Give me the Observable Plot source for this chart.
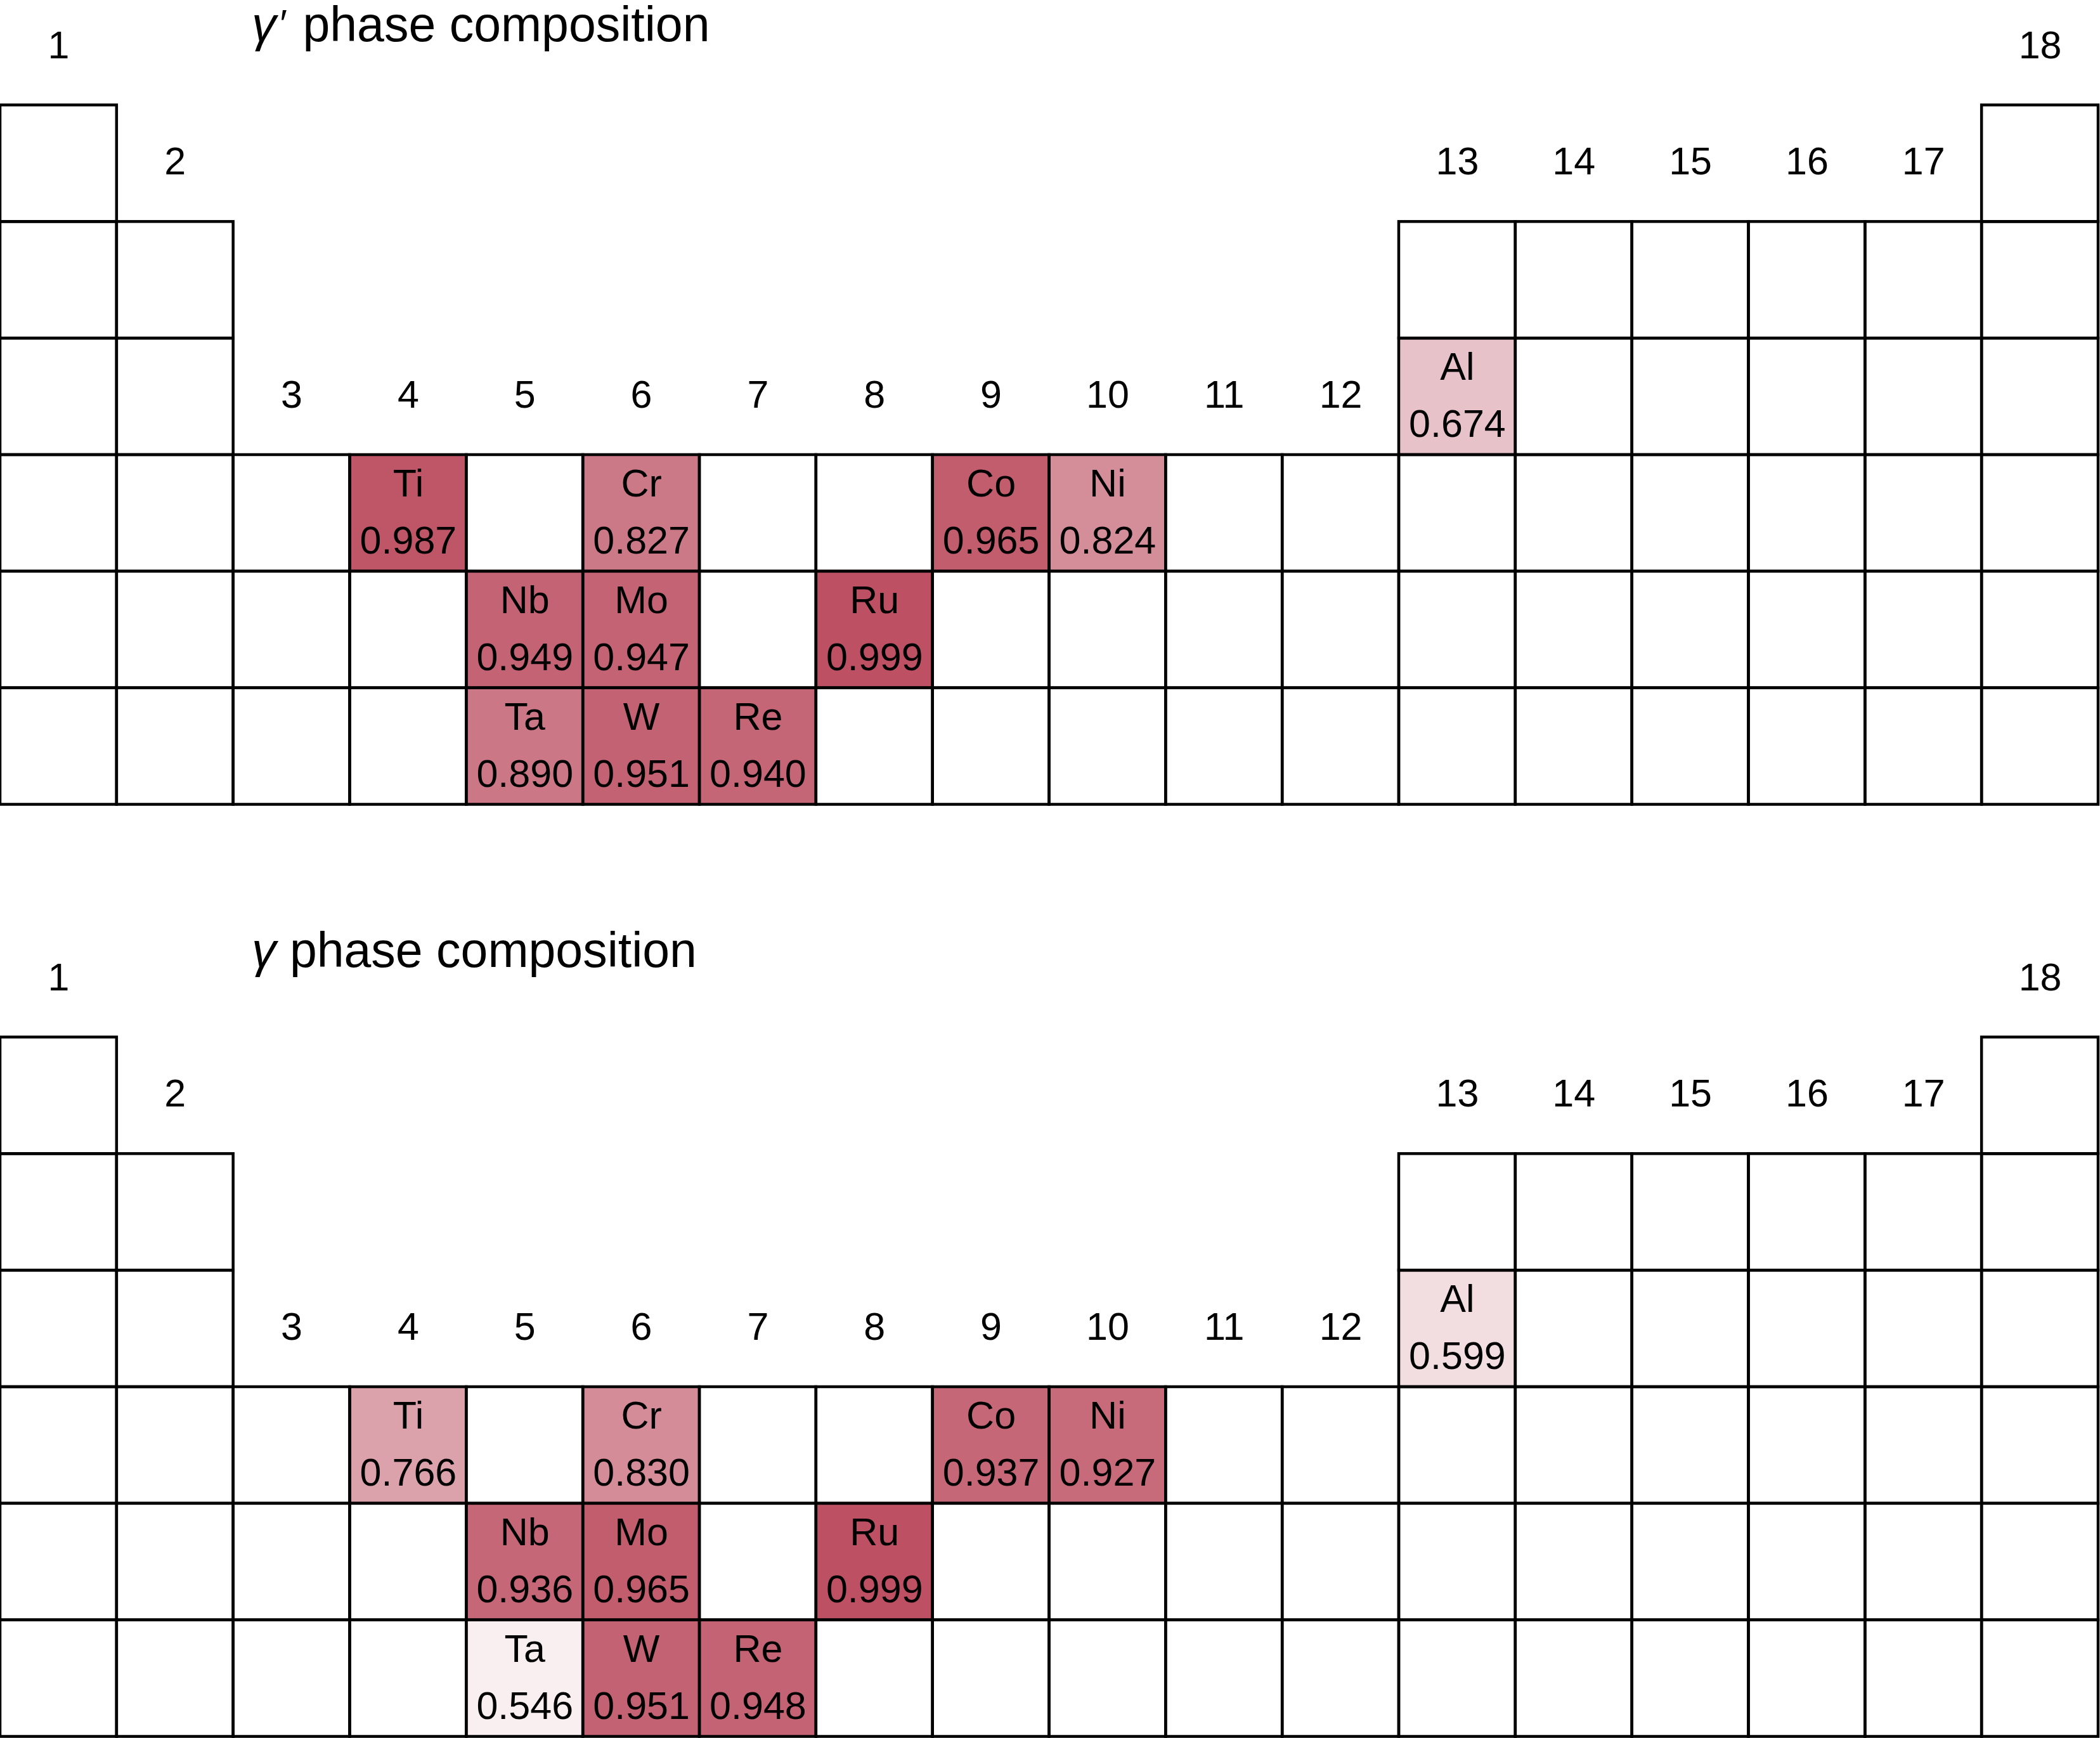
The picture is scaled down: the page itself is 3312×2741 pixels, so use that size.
<!DOCTYPE html>
<html><head><meta charset="utf-8">
<script src="https://cdn.jsdelivr.net/npm/d3@7"></script>
<script src="https://cdn.jsdelivr.net/npm/@observablehq/plot@0.6"></script>
<style>
body{margin:0;background:#fff;width:3312px;height:2741px;overflow:hidden;font-family:"Liberation Sans",Arial,Helvetica,sans-serif;}
.panel{position:absolute;left:0;width:3312px;}
.title{position:absolute;left:397px;font-size:77px;line-height:1;white-space:nowrap;color:#000;z-index:2;}
.title i{font-style:italic;}
.title .pr{font-style:italic;font-size:0.8em;vertical-align:0.12em;margin-left:3px;margin-right:6px;}
</style></head><body>
<div id="p1" class="panel" style="top:0;height:1470px"><div class="title" style="top:0px"><i>γ</i><span class="pr">′</span> phase composition</div></div>
<div id="p2" class="panel" style="top:1470px;height:1271px"><div class="title" style="top:-10px"><i>γ</i> phase composition</div></div>
<script>
// Elements shown in the tables
const symbols = ["Al","Ti","Cr","Co","Ni","Nb","Mo","Ru","Ta","W","Re"];
const groups  = [13, 4, 6, 9, 10, 5, 6, 8, 5, 6, 7];
const periods = [3, 4, 4, 4, 4, 5, 5, 5, 6, 6, 6];
// γ' phase composition values (printed)
const gammaPrime = [0.674, 0.987, 0.827, 0.965, 0.824, 0.949, 0.947, 0.999, 0.890, 0.951, 0.940];
// γ' cell shading (Cr is shaded darker than its printed value)
const gammaPrimeShade = [0.674, 0.987, 0.885, 0.965, 0.824, 0.949, 0.947, 0.999, 0.890, 0.951, 0.940];
// γ phase composition values
const gamma      = [0.599, 0.766, 0.830, 0.937, 0.927, 0.936, 0.965, 0.999, 0.546, 0.951, 0.948];
// Periodic-table skeleton: groups present in each period (1..6)
const periodGroups = [
  [1, 18],
  [1, 2, 13, 14, 15, 16, 17, 18],
  [1, 2, 13, 14, 15, 16, 17, 18],
  [1, 2, 3, 4, 5, 6, 7, 8, 9, 10, 11, 12, 13, 14, 15, 16, 17, 18],
  [1, 2, 3, 4, 5, 6, 7, 8, 9, 10, 11, 12, 13, 14, 15, 16, 17, 18],
  [1, 2, 3, 4, 5, 6, 7, 8, 9, 10, 11, 12, 13, 14, 15, 16, 17, 18]
];
const groupLabels = ["1","2","3","4","5","6","7","8","9","10","11","12","13","14","15","16","17","18"];

const cells = periodGroups.flatMap((gs, i) => gs.map(g => ({group: g, period: i + 1})));
const labels = groupLabels.map((label, i) => {
  const g = i + 1;
  const top = d3.min(cells.filter(c => c.group === g), c => c.period);
  return {group: g, period: top - 1, label};
});

const FONT = '"Liberation Sans", Arial, Helvetica, sans-serif';
const fmt = d3.format(".3f");
const rectOpts = {x1: d => d.group - 0.5, x2: d => d.group + 0.5, y1: d => d.period - 0.5, y2: d => d.period + 0.5};

function panel(values, shades, height, marginBottom) {
  const elems = symbols.map((s, i) => ({symbol: s, group: groups[i], period: periods[i], value: values[i], shade: shades[i]}));
  return Plot.plot({
    width: 3312, height,
    marginLeft: 0, marginRight: 3, marginTop: 165.5, marginBottom,
    x: {type: "linear", domain: [0.5, 18.5], axis: null},
    y: {type: "linear", domain: [0.5, 6.5], reverse: true, axis: null},
    color: {type: "linear", domain: [0.5, 1], range: ["#ffffff", "#bd5163"], interpolate: "rgb"},
    style: {fontFamily: FONT, background: "transparent", overflow: "visible"},
    marks: [
      Plot.rect(cells, {...rectOpts, fill: "white"}),
      Plot.rect(elems, {...rectOpts, fill: "shade"}),
      Plot.rect(cells, {...rectOpts, fill: "none", stroke: "black", strokeWidth: 4.5}),
      Plot.text(elems, {x: "group", y: "period", text: "symbol", dy: -46, fontSize: 61, fill: "black"}),
      Plot.text(elems, {x: "group", y: "period", text: d => fmt(d.value), dy: 44, fontSize: 61, fill: "black"}),
      Plot.text(labels, {x: "group", y: "period", text: "label", dy: -2, fontSize: 61, fill: "black"})
    ]
  });
}

document.getElementById("p1").appendChild(panel(gammaPrime, gammaPrimeShade, 1470, 201.5));
document.getElementById("p2").appendChild(panel(gamma, gamma, 1271, 2.5));
</script>
</body></html>
